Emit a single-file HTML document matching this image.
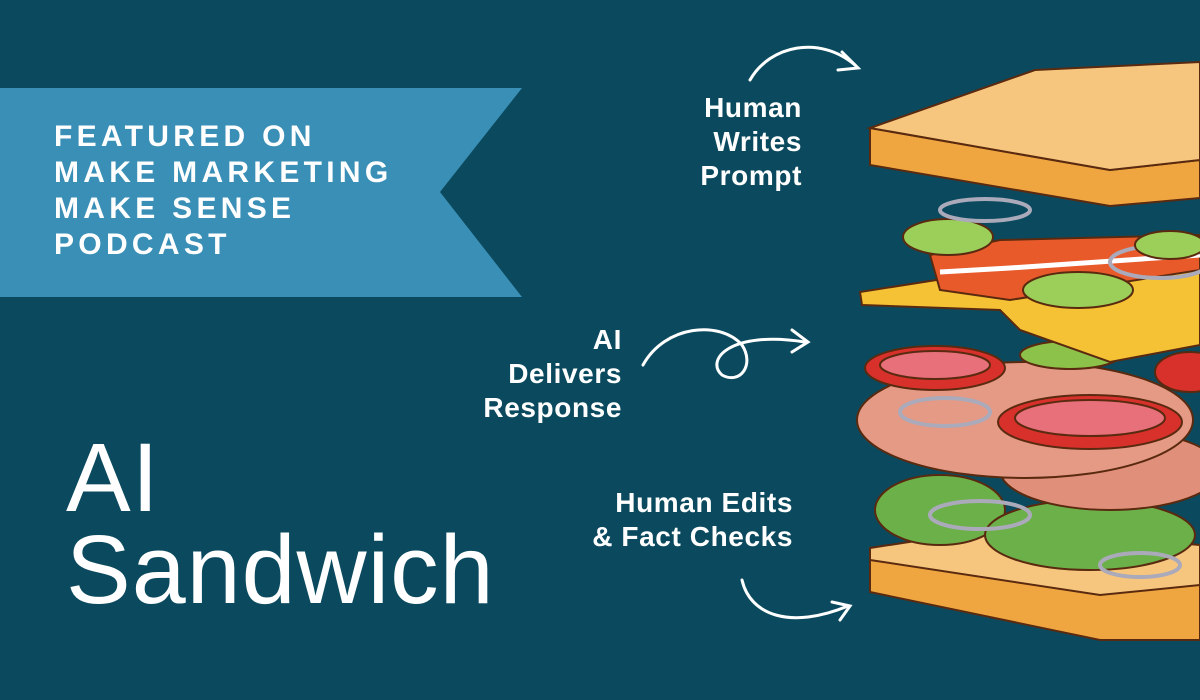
<!DOCTYPE html>
<html><head><meta charset="utf-8"><style>
html,body{margin:0;padding:0}
body{width:1200px;height:700px;background:#0b4a5e;position:relative;overflow:hidden;font-family:"Liberation Sans",sans-serif;color:#fff}
.b{position:absolute;left:54px;font-weight:bold;font-size:30px;letter-spacing:4.3px;line-height:36px;top:119px}
.t{position:absolute;left:66px;font-size:97px;line-height:92px;top:432px;font-weight:300;letter-spacing:1px}
.l{position:absolute;font-weight:bold;font-size:28px;line-height:34px;text-align:right;letter-spacing:0.6px}
</style></head><body>
<svg width="1200" height="700" style="position:absolute;left:0;top:0">
<polygon points="0,88 522,88 440,192 522,297 0,297" fill="#3a8fb6"/>
<g fill="none" stroke="#fff" stroke-width="3" stroke-linecap="round">
<path d="M750,80 C770,45 820,35 855,65"/><path d="M842,52 L858,68 L838,70"/>
<path d="M643,365 C665,325 720,320 742,345 C755,365 740,385 722,375 C705,360 730,330 805,342"/><path d="M792,330 L808,342 L792,352"/>
<path d="M742,580 C750,615 790,630 848,606"/><path d="M832,602 L850,606 L840,620"/>
</g>
<g stroke="#5a2a10" stroke-width="2">
<polygon points="870,548 1000,528 1200,545 1200,640 1100,640 870,592" fill="#f0a640"/>
<polygon points="870,548 1000,528 1200,545 1200,585 1100,595 870,560" fill="#f7c67e"/>
<ellipse cx="940" cy="510" rx="65" ry="35" fill="#6cb04a"/>
<ellipse cx="1090" cy="535" rx="105" ry="35" fill="#6cb04a"/>
<ellipse cx="980" cy="515" rx="50" ry="14" fill="none" stroke="#aab" stroke-width="4"/>
<ellipse cx="1140" cy="565" rx="40" ry="12" fill="none" stroke="#aab" stroke-width="4"/>
<ellipse cx="1110" cy="470" rx="110" ry="40" fill="#e0907a"/>
<ellipse cx="1025" cy="420" rx="168" ry="58" fill="#e59a85"/>
<ellipse cx="945" cy="412" rx="45" ry="14" fill="none" stroke="#aab" stroke-width="4"/>
<ellipse cx="1090" cy="422" rx="92" ry="27" fill="#d8312c"/>
<ellipse cx="1090" cy="418" rx="75" ry="18" fill="#e8707a"/>
<ellipse cx="935" cy="368" rx="70" ry="22" fill="#d8312c"/>
<ellipse cx="935" cy="365" rx="55" ry="14" fill="#e8707a"/>
<ellipse cx="1190" cy="372" rx="35" ry="20" fill="#d8312c"/>
<ellipse cx="1070" cy="355" rx="50" ry="14" fill="#8cc24a"/>
<polygon points="860,292 1000,270 1200,250 1200,345 1110,362 1020,330 1000,310 862,305" fill="#f6c235"/>
<polygon points="930,255 1000,240 1200,235 1200,270 1010,300 940,290" fill="#e85a2a"/>
<path d="M940,272 L1010,268 L1200,255" stroke="#fff" stroke-width="5" fill="none"/>
<ellipse cx="1078" cy="290" rx="55" ry="18" fill="#9bcf5a"/>
<ellipse cx="1160" cy="262" rx="50" ry="16" fill="none" stroke="#aab" stroke-width="4"/>
<ellipse cx="1170" cy="245" rx="35" ry="14" fill="#9bcf5a"/>
<ellipse cx="948" cy="237" rx="45" ry="18" fill="#9bcf5a"/>
<ellipse cx="985" cy="210" rx="45" ry="11" fill="none" stroke="#aab" stroke-width="4"/>
<polygon points="870,128 1110,170 1200,160 1200,198 1110,206 870,165" fill="#f0a640"/>
<polygon points="870,128 1035,70 1200,62 1200,160 1110,170" fill="#f7c67e"/>
</g>
</svg>
<div class="b">FEATURED ON<br>MAKE MARKETING<br>MAKE SENSE<br>PODCAST</div>
<div class="t">AI<br>Sandwich</div>
<div class="l" style="right:398px;top:91px">Human<br>Writes<br>Prompt</div>
<div class="l" style="right:578px;top:323px">AI<br>Delivers<br>Response</div>
<div class="l" style="right:407px;top:486px">Human Edits<br>&amp; Fact Checks</div>
</body></html>
